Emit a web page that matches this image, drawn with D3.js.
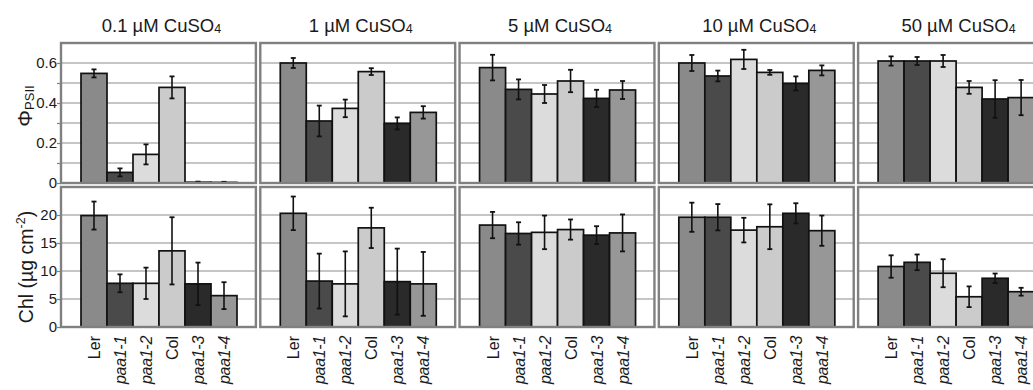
<!DOCTYPE html>
<html>
<head>
<meta charset="utf-8">
<script src="https://cdn.jsdelivr.net/npm/d3@7"></script>
<style>
  html, body { margin: 0; padding: 0; background: #fff; }
  svg { display: block; }
  text { font-family: "Liberation Sans", Arial, sans-serif; fill: #1a1a1a; }
</style>
</head>
<body>
<svg id="chart" width="1033" height="390"></svg>
<script>
// ---------- data ----------
const genotypes = ["Ler", "paa1-1", "paa1-2", "Col", "paa1-3", "paa1-4"];
const italicGenotypes = ["paa1-1", "paa1-2", "paa1-3", "paa1-4"];
const concentrations = ["0.1", "1", "5", "10", "50"];

// ΦPSII means and errors (rows: concentration, cols: genotype)
const phiMean = [
  [0.548, 0.053, 0.143, 0.478, 0.004, 0.003],
  [0.600, 0.310, 0.373, 0.557, 0.298, 0.353],
  [0.577, 0.468, 0.445, 0.510, 0.423, 0.465],
  [0.600, 0.535, 0.618, 0.553, 0.498, 0.563],
  [0.610, 0.610, 0.610, 0.478, 0.420, 0.427]
];
const phiErr = [
  [0.020, 0.020, 0.050, 0.055, 0.003, 0.003],
  [0.025, 0.077, 0.044, 0.017, 0.030, 0.031],
  [0.064, 0.050, 0.045, 0.056, 0.043, 0.045],
  [0.040, 0.027, 0.048, 0.012, 0.035, 0.025],
  [0.023, 0.020, 0.030, 0.032, 0.094, 0.088]
];
// Chl (µg cm-2) means and errors
const chlMean = [
  [19.9, 7.8, 7.8, 13.6, 7.7, 5.6],
  [20.3, 8.2, 7.7, 17.7, 8.1, 7.7],
  [18.2, 16.7, 16.9, 17.4, 16.4, 16.8],
  [19.6, 19.6, 17.3, 17.9, 20.3, 17.2],
  [10.8, 11.55, 9.6, 5.4, 8.7, 6.3]
];
const chlErr = [
  [2.5, 1.6, 2.8, 6.0, 3.8, 2.4],
  [3.0, 4.9, 5.8, 3.6, 5.9, 5.7],
  [2.35, 2.0, 3.0, 1.8, 1.6, 3.3],
  [2.6, 2.35, 2.2, 4.0, 1.8, 2.7],
  [2.0, 1.4, 2.5, 1.85, 0.85, 0.7]
];
const phiTicks = [0, 0.2, 0.4, 0.6];
const phiTickLabels = ["0", "0.2", "0.4", "0.6"];
const phiGrid = [0.1, 0.2, 0.3, 0.4, 0.5, 0.6, 0.7];
const chlTicks = [0, 5, 10, 15, 20];
const chlGrid = [5, 10, 15, 20, 25];

// ---------- styles ----------
const barColors = ["#8a8a8a", "#4a4a4a", "#dcdcdc", "#cbcbcb", "#2a2a2a", "#979797"];
const frameColor = "#808080";
const gridColor = "#8c8c8c";

// ---------- layout ----------
const svg = d3.select("#chart");
const panelX = d3.scaleBand().domain(concentrations).range([61, 1053]).paddingInner(0.022);
const pw = panelX.bandwidth();
const barX = d3.scaleBand().domain(genotypes).range([20, 176]).padding(0);

const yPhi = d3.scaleLinear().domain([0, 0.7]).range([183, 43]);
const yChl = d3.scaleLinear().domain([0, 25]).range([327, 187]);

function drawPanel(g, yScale, means, errs, grid) {
  const [y0, y1] = yScale.range();
  g.selectAll("line.grid").data(grid).join("line")
    .attr("class", "grid")
    .attr("x1", 0).attr("x2", pw)
    .attr("y1", d => yScale(d)).attr("y2", d => yScale(d))
    .attr("stroke", gridColor).attr("stroke-width", 1.2);
  g.selectAll("rect.bar").data(genotypes).join("rect")
    .attr("class", "bar")
    .attr("x", d => barX(d))
    .attr("width", barX.bandwidth())
    .attr("y", (d, i) => yScale(means[i]))
    .attr("height", (d, i) => yScale(0) - yScale(means[i]))
    .attr("fill", (d, i) => barColors[i])
    .attr("stroke", "#111").attr("stroke-width", 1.7);
  const eb = g.selectAll("g.err").data(genotypes).join("g").attr("class", "err");
  eb.append("line")
    .attr("x1", d => barX(d) + barX.bandwidth() / 2)
    .attr("x2", d => barX(d) + barX.bandwidth() / 2)
    .attr("y1", (d, i) => yScale(Math.max(0, means[i] - errs[i])))
    .attr("y2", (d, i) => yScale(means[i] + errs[i]))
    .attr("stroke", "#111").attr("stroke-width", 1.6);
  [-1, 1].forEach(s => {
    eb.append("line")
      .attr("x1", d => barX(d) + barX.bandwidth() / 2 - 2.5)
      .attr("x2", d => barX(d) + barX.bandwidth() / 2 + 2.5)
      .attr("y1", (d, i) => yScale(Math.max(0, means[i] + s * errs[i])))
      .attr("y2", (d, i) => yScale(Math.max(0, means[i] + s * errs[i])))
      .attr("stroke", "#111").attr("stroke-width", 1.8);
  });
  g.append("rect")
    .attr("x", 0).attr("y", y1).attr("width", pw).attr("height", y0 - y1)
    .attr("fill", "none").attr("stroke", frameColor).attr("stroke-width", 2.4);
}

concentrations.forEach((c, ci) => {
  const g = svg.append("g").attr("transform", `translate(${panelX(c)},0)`);
  drawPanel(g.append("g"), yPhi, phiMean[ci], phiErr[ci], phiGrid);
  drawPanel(g.append("g"), yChl, chlMean[ci], chlErr[ci], chlGrid);

  const t = svg.append("text")
    .attr("x", panelX(c) + pw / 2 + 3).attr("y", 32)
    .attr("text-anchor", "middle")
    .style("font-size", "18.5px");
  t.append("tspan").text(c + " \u00B5M CuSO");
  t.append("tspan").text("4").style("font-size", "12.5px").attr("dy", 1);

  genotypes.forEach((gname) => {
    const x = panelX(c) + barX(gname) + barX.bandwidth() / 2 + 6;
    svg.append("text")
      .attr("transform", `translate(${x},336) rotate(-90)`)
      .attr("text-anchor", "end")
      .style("font-size", "16px")
      .style("letter-spacing", italicGenotypes.includes(gname) ? "-0.3px" : "0px")
      .style("font-style", italicGenotypes.includes(gname) ? "italic" : "normal")
      .text(gname);
  });
});

const axG1 = svg.append("g").attr("transform", `translate(${panelX(concentrations[0])},0)`);
axG1.call(d3.axisLeft(yPhi).tickValues([0, ...phiGrid.slice(0, 6)]).tickSize(4)
  .tickFormat(d => { const k = phiTicks.findIndex(v => Math.abs(v - d) < 1e-9); return k >= 0 ? phiTickLabels[k] : ""; }));
const axG2 = svg.append("g").attr("transform", `translate(${panelX(concentrations[0])},0)`);
axG2.call(d3.axisLeft(yChl).tickValues(chlTicks).tickSize(4).tickFormat(d3.format("d")));
[axG1, axG2].forEach(a => {
  a.select(".domain").remove();
  a.selectAll(".tick line").attr("stroke", frameColor).attr("stroke-width", 1.2);
  a.selectAll(".tick text").style("font-size", "15px").attr("fill", "#1a1a1a")
    .style("font-family", "'Liberation Sans', Arial, sans-serif").attr("x", -4);
});

const yt1 = svg.append("text")
  .attr("transform", "translate(32,106) rotate(-90)")
  .attr("text-anchor", "middle");
yt1.append("tspan").text("\u03A6").style("font-size", "21px");
yt1.append("tspan").text("PSII").style("font-size", "13px").attr("dy", 2);

svg.append("text")
  .attr("transform", "translate(33,267) rotate(-90)")
  .attr("text-anchor", "middle")
  .style("font-size", "19.5px")
  .call(t => {
    t.append("tspan").text("Chl (\u00B5g cm");
    t.append("tspan").text("-2").style("font-size", "12.5px").attr("dy", -8);
    t.append("tspan").text(")").attr("dy", 8);
  });
</script>
</body>
</html>
